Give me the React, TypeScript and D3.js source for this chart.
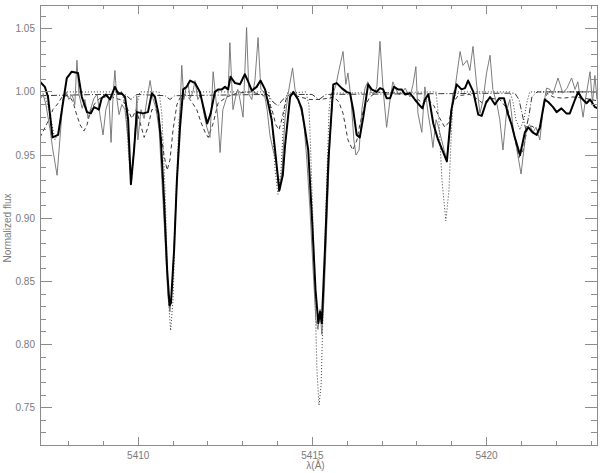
import React from 'react';
import * as d3 from 'd3';

// wavelength (Å), normalized flux
const observed: [number, number][] = [
  [5407.18, 0.994], [5407.27, 0.998], [5407.35, 0.990], [5407.47, 0.970], [5407.55, 0.954],
  [5407.67, 0.934], [5407.75, 0.962], [5407.84, 0.994], [5407.93, 1.000], [5408.01, 0.994],
  [5408.10, 0.998], [5408.18, 0.990], [5408.24, 1.025], [5408.30, 0.998], [5408.39, 0.987],
  [5408.47, 0.994], [5408.56, 0.979], [5408.64, 0.987], [5408.73, 0.995], [5408.82, 0.998],
  [5408.90, 0.982], [5408.99, 0.966], [5409.07, 0.986], [5409.16, 0.994], [5409.22, 0.960],
  [5409.28, 0.998], [5409.33, 1.017], [5409.39, 0.994], [5409.45, 0.982], [5409.53, 0.990],
  [5409.62, 0.986], [5409.71, 0.962], [5409.79, 0.930], [5409.88, 0.954], [5409.96, 0.997],
  [5409.99, 0.962], [5410.08, 0.986], [5410.17, 0.979], [5410.25, 0.994], [5410.34, 1.009],
  [5410.42, 0.995], [5410.51, 0.987], [5410.60, 0.970], [5410.68, 0.930], [5410.77, 0.883],
  [5410.85, 0.839], [5410.91, 0.826], [5410.97, 0.843], [5411.05, 0.891], [5411.14, 0.946],
  [5411.25, 1.021], [5411.31, 0.994], [5411.37, 1.003], [5411.43, 1.007], [5411.49, 0.995],
  [5411.57, 1.000], [5411.63, 1.009], [5411.71, 0.994], [5411.80, 0.998], [5411.89, 0.982],
  [5411.97, 0.972], [5412.06, 0.964], [5412.15, 1.016], [5412.23, 0.994], [5412.29, 0.978],
  [5412.35, 0.952], [5412.43, 0.986], [5412.52, 0.994], [5412.58, 0.998], [5412.63, 1.039],
  [5412.72, 0.986], [5412.81, 0.998], [5412.86, 1.002], [5412.92, 0.994], [5413.01, 0.980],
  [5413.11, 1.051], [5413.18, 0.998], [5413.26, 0.994], [5413.35, 1.009], [5413.44, 1.043],
  [5413.52, 1.002], [5413.61, 1.000], [5413.70, 0.986], [5413.78, 0.966], [5413.87, 0.954],
  [5413.95, 0.946], [5414.04, 0.921], [5414.13, 0.938], [5414.21, 0.978], [5414.30, 0.998],
  [5414.43, 1.019], [5414.50, 1.002], [5414.59, 0.994], [5414.67, 0.986], [5414.76, 0.974],
  [5414.84, 0.946], [5414.93, 0.907], [5415.02, 0.859], [5415.10, 0.820], [5415.16, 0.812],
  [5415.22, 0.828], [5415.27, 0.808], [5415.33, 0.835], [5415.42, 0.899], [5415.50, 0.962],
  [5415.59, 0.998], [5415.68, 1.006], [5415.76, 1.017], [5415.88, 1.032], [5415.96, 1.006],
  [5416.02, 1.015], [5416.11, 0.994], [5416.19, 0.962], [5416.25, 0.950], [5416.34, 0.954],
  [5416.42, 0.986], [5416.51, 1.003], [5416.59, 1.008], [5416.68, 1.000], [5416.77, 0.998],
  [5416.85, 1.004], [5416.94, 1.040], [5417.03, 1.002], [5417.13, 0.972], [5417.23, 0.994],
  [5417.31, 1.008], [5417.40, 1.002], [5417.48, 0.998], [5417.57, 0.999], [5417.66, 1.003],
  [5417.80, 0.996], [5417.89, 1.006], [5417.97, 1.020], [5418.03, 0.983], [5418.14, 0.968],
  [5418.23, 1.004], [5418.32, 0.983], [5418.40, 0.970], [5418.46, 0.956], [5418.55, 0.978],
  [5418.60, 0.974], [5418.71, 0.962], [5418.78, 0.954], [5418.86, 0.946], [5418.95, 0.970],
  [5419.03, 0.998], [5419.09, 1.002], [5419.24, 1.032], [5419.32, 1.021], [5419.44, 1.025],
  [5419.52, 1.017], [5419.61, 1.036], [5419.71, 1.007], [5419.81, 0.983], [5419.90, 0.994],
  [5420.00, 1.015], [5420.10, 1.029], [5420.18, 1.002], [5420.30, 0.990], [5420.38, 0.978],
  [5420.47, 0.954], [5420.58, 0.986], [5420.67, 0.994], [5420.76, 0.972], [5420.86, 0.956],
  [5420.99, 0.935], [5421.07, 0.954], [5421.15, 0.972], [5421.24, 0.974], [5421.33, 0.968],
  [5421.42, 0.972], [5421.53, 0.962], [5421.62, 0.986], [5421.72, 1.003], [5421.82, 1.002],
  [5421.90, 0.998], [5422.05, 1.011], [5422.19, 0.999], [5422.31, 1.003], [5422.44, 1.011],
  [5422.54, 1.002], [5422.62, 1.008], [5422.77, 0.980], [5422.85, 0.996], [5422.97, 1.016],
  [5423.04, 0.991], [5423.11, 1.013], [5423.17, 0.994],
];

const smoothed: [number, number][] = [
  [5407.18, 1.008], [5407.32, 1.004], [5407.41, 0.996], [5407.54, 0.964], [5407.70, 0.966],
  [5407.81, 0.986], [5407.95, 1.011], [5408.09, 1.016], [5408.27, 1.015], [5408.38, 0.996],
  [5408.53, 0.984], [5408.64, 0.983], [5408.73, 0.988], [5408.81, 0.987], [5408.87, 0.986],
  [5408.95, 0.995], [5409.07, 0.998], [5409.19, 0.994], [5409.33, 1.004], [5409.42, 0.999],
  [5409.52, 0.999], [5409.62, 0.996], [5409.71, 0.978], [5409.79, 0.927], [5409.88, 0.954],
  [5409.96, 0.984], [5410.14, 0.983], [5410.28, 0.984], [5410.39, 0.999], [5410.48, 0.996],
  [5410.58, 0.983], [5410.65, 0.962], [5410.74, 0.915], [5410.83, 0.859], [5410.90, 0.831],
  [5410.94, 0.833], [5411.03, 0.875], [5411.11, 0.930], [5411.20, 0.972], [5411.29, 1.002],
  [5411.39, 1.004], [5411.49, 1.009], [5411.63, 1.007], [5411.77, 1.000], [5411.87, 0.988],
  [5411.98, 0.975], [5412.08, 0.983], [5412.20, 1.000], [5412.30, 1.002], [5412.40, 1.002],
  [5412.49, 1.004], [5412.58, 1.002], [5412.65, 1.012], [5412.78, 1.007], [5412.92, 1.006],
  [5413.06, 1.014], [5413.16, 1.008], [5413.26, 1.001], [5413.40, 1.004], [5413.51, 1.009],
  [5413.64, 1.002], [5413.73, 0.991], [5413.83, 0.978], [5413.92, 0.956], [5414.05, 0.922],
  [5414.15, 0.934], [5414.21, 0.956], [5414.36, 0.996], [5414.45, 1.000], [5414.59, 0.994],
  [5414.69, 0.987], [5414.79, 0.970], [5414.88, 0.954], [5414.99, 0.899], [5415.09, 0.843],
  [5415.17, 0.817], [5415.22, 0.826], [5415.27, 0.817], [5415.36, 0.875], [5415.46, 0.946],
  [5415.60, 1.006], [5415.70, 1.007], [5415.84, 1.003], [5415.98, 1.000], [5416.08, 0.999],
  [5416.17, 0.986], [5416.27, 0.966], [5416.36, 0.964], [5416.46, 0.980], [5416.60, 1.006],
  [5416.70, 1.002], [5416.84, 1.000], [5416.94, 1.003], [5417.03, 1.002], [5417.13, 0.995],
  [5417.23, 0.995], [5417.34, 1.004], [5417.46, 1.002], [5417.56, 1.002], [5417.66, 0.998],
  [5417.80, 0.999], [5417.94, 0.994], [5418.09, 0.989], [5418.16, 0.987], [5418.23, 0.994],
  [5418.33, 0.998], [5418.47, 0.975], [5418.61, 0.962], [5418.76, 0.952], [5418.86, 0.945],
  [5418.99, 0.986], [5419.14, 1.006], [5419.28, 1.002], [5419.38, 1.003], [5419.47, 1.009],
  [5419.62, 1.000], [5419.76, 0.982], [5419.86, 0.981], [5419.98, 0.991], [5420.10, 0.996],
  [5420.24, 0.990], [5420.36, 0.995], [5420.50, 0.995], [5420.62, 0.982], [5420.72, 0.974],
  [5420.81, 0.964], [5420.96, 0.950], [5421.10, 0.968], [5421.20, 0.972], [5421.32, 0.968],
  [5421.44, 0.966], [5421.53, 0.972], [5421.67, 0.994], [5421.77, 0.992], [5421.91, 0.988],
  [5422.01, 0.984], [5422.15, 0.987], [5422.29, 0.983], [5422.39, 0.983], [5422.54, 0.994],
  [5422.63, 1.000], [5422.73, 0.995], [5422.87, 0.991], [5422.97, 0.994], [5423.11, 0.988],
  [5423.20, 0.987],
];

const synthDotted: [number, number][] = [
  [5407.18, 1.000], [5407.32, 0.998], [5407.47, 0.982], [5407.61, 0.962], [5407.73, 0.970],
  [5407.84, 0.994], [5407.96, 1.000], [5409.53, 1.000], [5409.65, 0.986], [5409.73, 0.946],
  [5409.81, 0.930], [5409.88, 0.954], [5409.96, 0.990], [5410.05, 1.000], [5410.60, 1.000],
  [5410.68, 0.982], [5410.77, 0.922], [5410.85, 0.843], [5410.93, 0.811], [5411.00, 0.836],
  [5411.08, 0.915], [5411.17, 0.978], [5411.26, 0.998], [5411.34, 1.000], [5413.75, 1.000],
  [5413.84, 0.978], [5413.93, 0.938], [5414.01, 0.919], [5414.10, 0.938], [5414.18, 0.982],
  [5414.27, 0.999], [5414.81, 1.000], [5414.90, 0.990], [5414.96, 0.946], [5415.05, 0.867],
  [5415.13, 0.780], [5415.19, 0.752], [5415.25, 0.768], [5415.33, 0.851], [5415.42, 0.938],
  [5415.48, 0.986], [5415.53, 0.999], [5418.55, 1.000], [5418.63, 0.978], [5418.72, 0.930],
  [5418.83, 0.898], [5418.92, 0.922], [5418.98, 0.962], [5419.03, 0.990], [5419.12, 1.000],
  [5420.67, 1.000], [5420.76, 0.992], [5420.84, 0.978], [5420.96, 0.970], [5421.07, 0.978],
  [5421.16, 0.992], [5421.24, 1.000], [5423.17, 1.000],
];

const synthDashed: [number, number][] = [
  [5407.18, 0.964], [5407.29, 0.970], [5407.38, 0.975], [5407.47, 0.980], [5407.55, 0.986],
  [5407.70, 0.991], [5407.81, 0.996], [5407.93, 0.997], [5408.04, 0.996], [5408.13, 0.992],
  [5408.21, 0.984], [5408.33, 0.974], [5408.44, 0.969], [5408.53, 0.974], [5408.64, 0.986],
  [5408.76, 0.991], [5408.90, 0.995], [5409.05, 0.996], [5409.19, 0.997], [5409.33, 0.995],
  [5409.48, 0.994], [5409.62, 0.991], [5409.73, 0.984], [5409.82, 0.979], [5409.94, 0.986],
  [5410.05, 0.976], [5410.17, 0.964], [5410.28, 0.972], [5410.39, 0.986], [5410.51, 0.986],
  [5410.62, 0.974], [5410.74, 0.950], [5410.83, 0.938], [5410.91, 0.946], [5411.00, 0.970],
  [5411.11, 0.990], [5411.23, 0.997], [5411.34, 0.998], [5411.49, 0.994], [5411.68, 0.986],
  [5411.80, 0.976], [5411.92, 0.968], [5412.01, 0.964], [5412.15, 0.975], [5412.29, 0.991],
  [5412.54, 0.996], [5412.83, 0.999], [5413.21, 1.000], [5413.55, 0.998], [5413.72, 0.994],
  [5413.84, 0.986], [5413.95, 0.974], [5414.04, 0.970], [5414.13, 0.979], [5414.24, 0.994],
  [5414.41, 0.998], [5414.64, 0.996], [5414.93, 0.994], [5415.22, 0.994], [5415.45, 0.995],
  [5415.62, 0.996], [5415.76, 0.992], [5415.88, 0.983], [5416.02, 0.962], [5416.16, 0.954],
  [5416.28, 0.962], [5416.36, 0.974], [5416.48, 0.987], [5416.65, 0.996], [5416.85, 1.000],
  [5417.37, 0.999], [5417.80, 0.998], [5418.03, 0.994], [5418.17, 0.991], [5418.32, 0.994],
  [5418.49, 0.989], [5418.66, 0.979], [5418.80, 0.972], [5418.92, 0.976], [5419.03, 0.991],
  [5419.18, 0.997], [5419.52, 0.998], [5419.75, 0.994], [5419.89, 0.991], [5420.10, 0.995],
  [5420.38, 0.994], [5420.61, 0.986], [5420.79, 0.966], [5420.93, 0.948], [5421.05, 0.954],
  [5421.16, 0.970], [5421.30, 0.973], [5421.45, 0.970], [5421.53, 0.968], [5421.62, 0.986],
  [5421.74, 0.999], [5421.91, 0.996], [5422.19, 0.995], [5422.48, 0.996], [5422.82, 0.995],
  [5423.17, 0.993],
];

const synthDashDot: [number, number][] = [
  [5407.18, 0.997], [5408.90, 0.998], [5409.62, 0.998], [5409.79, 0.994], [5409.96, 0.998],
  [5410.77, 0.997], [5410.91, 0.994], [5411.05, 0.997], [5413.72, 0.998], [5413.87, 0.992],
  [5414.01, 0.989], [5414.15, 0.994], [5414.36, 0.998], [5414.99, 0.998], [5415.19, 0.994],
  [5415.39, 0.998], [5420.81, 0.999], [5420.93, 0.994], [5421.05, 0.979], [5421.13, 0.970],
  [5421.22, 0.982], [5421.30, 0.996], [5421.45, 1.000], [5423.17, 1.000],
];

const xMajor = [5410, 5415, 5420];
const yMajor = [0.75, 0.8, 0.85, 0.9, 0.95, 1.0, 1.05];

const AXIS = '#8c8c8c';
const TEXT = '#7a7a7a';

export default function App() {
  const width = 600;
  const height = 473;
  const left = 40, right = 597, top = 5, bottom = 445;

  const x = d3.scaleLinear().domain([5407.18, 5423.17]).range([left, right]);
  const y = d3.scaleLinear().domain([0.7205, 1.0688]).range([bottom, top]);

  const line = d3.line<[number, number]>()
    .x(d => x(d[0]))
    .y(d => y(d[1]));

  const xMinor = x.ticks(16).filter(t => !xMajor.includes(t));
  const yMinor = y.ticks(35).filter(t => !yMajor.some(m => Math.abs(m - t) < 1e-6));
  const fmt = d3.format('.2f');

  const xMajLen = 8.5, xMinLen = 4.3, yMajLen = 12, yMinLen = 6;

  return (
    <div style={{ position: 'absolute', left: 0, top: 0 }}>
      <svg width={width} height={height} style={{ display: 'block', background: '#fff' }}>
        <defs>
          <clipPath id="plot-clip">
            <rect x={left} y={top} width={right - left} height={bottom - top} />
          </clipPath>
        </defs>

        <g clipPath="url(#plot-clip)" fill="none">
          <path d={line(synthDashDot) || ''} stroke="#222" strokeWidth={0.9} strokeDasharray="6,2,1,2" />
          <path d={line(synthDashed) || ''} stroke="#222" strokeWidth={0.9} strokeDasharray="4,3" />
          <path d={line(synthDotted) || ''} stroke="#222" strokeWidth={0.9} strokeDasharray="1,2" />
          <path d={line(observed) || ''} stroke="#6e6e6e" strokeWidth={0.9} strokeLinejoin="round" />
          <path d={line(smoothed) || ''} stroke="#000" strokeWidth={2} strokeLinejoin="round" />
        </g>

        <g stroke={AXIS} strokeWidth={1} shapeRendering="crispEdges">
          <rect x={left + 0.5} y={top + 0.5} width={right - left} height={bottom - top} fill="none" />
          {xMajor.map(t => (
            <g key={'xM' + t}>
              <line x1={x(t)} x2={x(t)} y1={bottom} y2={bottom - xMajLen} />
              <line x1={x(t)} x2={x(t)} y1={top} y2={top + xMajLen} />
            </g>
          ))}
          {xMinor.map(t => (
            <g key={'xm' + t}>
              <line x1={x(t)} x2={x(t)} y1={bottom} y2={bottom - xMinLen} />
              <line x1={x(t)} x2={x(t)} y1={top} y2={top + xMinLen} />
            </g>
          ))}
          {yMajor.map(t => (
            <g key={'yM' + t}>
              <line x1={left} x2={left + yMajLen} y1={y(t)} y2={y(t)} />
              <line x1={right} x2={right - yMajLen} y1={y(t)} y2={y(t)} />
            </g>
          ))}
          {yMinor.map(t => (
            <g key={'ym' + t}>
              <line x1={left} x2={left + yMinLen} y1={y(t)} y2={y(t)} />
              <line x1={right} x2={right - yMinLen} y1={y(t)} y2={y(t)} />
            </g>
          ))}
        </g>

        <g fill={TEXT} fontFamily="'Liberation Sans', 'DejaVu Sans', sans-serif" fontSize={10}>
          {xMajor.map(t => (
            <text key={'xl' + t} x={x(t)} y={bottom + 14} textAnchor="middle">{t}</text>
          ))}
          {yMajor.map(t => (
            <text key={'yl' + t} x={left - 5} y={y(t) + 3.5} textAnchor="end">{fmt(t)}</text>
          ))}
          <text x={(left + right) / 2 - 3} y={469} textAnchor="middle">λ(Å)</text>
          <text transform={`translate(11, 228) rotate(-90)`} textAnchor="middle">Normalized flux</text>
        </g>
      </svg>
    </div>
  );
}
